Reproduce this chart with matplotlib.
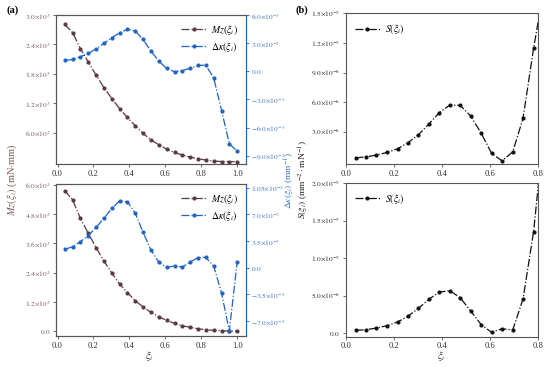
import numpy as np
import matplotlib
matplotlib.use("Agg")
import matplotlib.pyplot as plt
from matplotlib.ticker import FixedLocator, FixedFormatter

plt.rcParams['font.family'] = 'serif'
plt.rcParams['font.serif'] = ['Liberation Serif', 'DejaVu Serif']
plt.rcParams['mathtext.fontset'] = 'stix'

# ---------------- data ----------------
xi = [0.040, 0.084, 0.127, 0.171, 0.215, 0.258, 0.302, 0.345, 0.389, 0.433,
      0.476, 0.520, 0.564, 0.607, 0.651, 0.695, 0.738, 0.782, 0.825, 0.869,
      0.913, 0.956, 1.000]

mz_top = [2811, 2641, 2316, 2043, 1772, 1521, 1297, 1093, 910, 740,
          584, 454, 352, 265, 197, 143, 102, 68, 41, 20, 12, 10, 10]
dk_top = [1.15e-3, 1.26e-3, 1.55e-3, 1.90e-3, 2.40e-3, 2.97e-3, 3.58e-3, 4.10e-3,
          4.47e-3, 4.29e-3, 3.40e-3, 2.15e-3, 1.08e-3, 0.30e-3, -0.05e-3, 0.08e-3,
          0.33e-3, 0.62e-3, 0.65e-3, -0.70e-3, -4.19e-3, -7.72e-3, -8.54e-3]

mz_bot = [5760, 5378, 4628, 4014, 3425, 2880, 2388, 1937, 1581, 1253,
          995, 778, 598, 450, 328, 229, 164, 106, 66, 41, 25, 12, 12]
dk_bot = [2.41e-3, 2.75e-3, 3.41e-3, 4.20e-3, 5.30e-3, 6.47e-3, 7.79e-3, 8.74e-3,
          8.65e-3, 7.13e-3, 4.64e-3, 2.32e-3, 0.71e-3, 0.05e-3, 0.22e-3, 0.09e-3,
          0.75e-3, 1.31e-3, 1.36e-3, 0.22e-3, -3.36e-3, -8.30e-3, 0.79e-3]

xi_s = xi[:19]
s_top = [0.36e-6, 0.47e-6, 0.64e-6, 0.91e-6, 1.28e-6, 1.89e-6, 2.70e-6, 3.78e-6,
         4.93e-6, 5.71e-6, 5.68e-6, 4.59e-6, 2.84e-6, 0.81e-6, 0.06e-6, 0.97e-6,
         4.36e-6, 1.145e-5, 1.75e-5]
s_bot = [0.40e-6, 0.48e-6, 0.70e-6, 1.01e-6, 1.50e-6, 2.26e-6, 3.32e-6, 4.51e-6,
         5.48e-6, 5.66e-6, 4.73e-6, 2.96e-6, 1.14e-6, 0.13e-6, 0.61e-6, 0.44e-6,
         4.56e-6, 1.35e-5, 2.7e-5]

# tick labels
xt_a = [0.0, 0.2, 0.4, 0.6, 0.8, 1.0]
xt_b = [0.0, 0.2, 0.4, 0.6, 0.8]
mz_top_ticks = [600, 1200, 1800, 2400, 3000]
mz_top_lbl = [r'$6.0{\times}10^{2}$', r'$1.2{\times}10^{3}$', r'$1.8{\times}10^{3}$',
              r'$2.4{\times}10^{3}$', r'$3.0{\times}10^{3}$']
dk_top_ticks = [-9e-3, -6e-3, -3e-3, 0, 3e-3, 6e-3]
dk_top_lbl = [r'$-9.0{\times}10^{-3}$', r'$-6.0{\times}10^{-3}$', r'$-3.0{\times}10^{-3}$',
              r'$0.0$', r'$3.0{\times}10^{-3}$', r'$6.0{\times}10^{-3}$']
mz_bot_ticks = [0, 1200, 2400, 3600, 4800, 6000]
mz_bot_lbl = [r'$0.0$', r'$1.2{\times}10^{3}$', r'$2.4{\times}10^{3}$',
              r'$3.6{\times}10^{3}$', r'$4.8{\times}10^{3}$', r'$6.0{\times}10^{3}$']
dk_bot_ticks = [-7e-3, -3.5e-3, 0, 3.5e-3, 7e-3, 1.05e-2]
dk_bot_lbl = [r'$-7.0{\times}10^{-3}$', r'$-3.5{\times}10^{-3}$', r'$0.0$',
              r'$3.5{\times}10^{-3}$', r'$7.0{\times}10^{-3}$', r'$1.05{\times}10^{-2}$']
s_top_ticks = [3e-6, 6e-6, 9e-6, 1.2e-5, 1.5e-5]
s_top_lbl = [r'$3.0{\times}10^{-6}$', r'$6.0{\times}10^{-6}$', r'$9.0{\times}10^{-6}$',
             r'$1.2{\times}10^{-5}$', r'$1.5{\times}10^{-5}$']
s_bot_ticks = [0, 5e-6, 1e-5, 1.5e-5, 2e-5]
s_bot_lbl = [r'$0.0$', r'$5.0{\times}10^{-6}$', r'$1.0{\times}10^{-5}$',
             r'$1.5{\times}10^{-5}$', r'$2.0{\times}10^{-5}$']

# ---------------- style ----------------
C_MZ = '#5a3a40'
C_MZ_TXT = '#7d5858'
C_DK = '#1f63c4'
C_DK_TXT = '#3f78c0'
C_SP = '#555555'
TFS = 5.3
LFS = 7.5
MS = 2.0

fig = plt.figure(figsize=(5.5, 3.67), dpi=100)

def style_axes(ax):
    for s in ax.spines.values():
        s.set_color(C_SP)
        s.set_linewidth(0.8)
    ax.tick_params(axis='both', length=2.5, width=0.6, labelsize=TFS, pad=1.5, color=C_SP)
    ax.tick_params(axis='x', labelsize=6.2)

def set_ticks(ax, axis, ticks, labels):
    a = ax.yaxis if axis == 'y' else ax.xaxis
    a.set_major_locator(FixedLocator(ticks))
    a.set_major_formatter(FixedFormatter(labels))

def panel_a(rect, mz, dk, mz_lim, dk_lim, mzt, mzl, dkt, dkl):
    ax = fig.add_axes(rect)
    style_axes(ax)
    l1, = ax.plot(xi, mz, linestyle='-.', marker='o', ms=MS, lw=0.9, color=C_MZ,
                  label=r'$Mz(\xi_i)$')
    ax.set_ylim(*mz_lim)
    set_ticks(ax, 'y', mzt, mzl)
    ax.set_xticks(xt_a)
    ax.set_xticklabels(['%.1f' % v for v in xt_a])
    ax.tick_params(axis='y', labelcolor=C_MZ_TXT)
    ax.tick_params(axis='x', labelcolor='#333333')
    ax2 = ax.twinx()
    style_axes(ax2)
    ax2.spines['right'].set_color(C_DK)
    l2, = ax2.plot(xi, dk, linestyle='-.', marker='o', ms=MS, lw=0.9, color=C_DK,
                   label=r'$\Delta\kappa(\xi_i)$')
    ax2.set_ylim(*dk_lim)
    set_ticks(ax2, 'y', dkt, dkl)
    ax2.tick_params(axis='y', labelcolor=C_DK_TXT, color=C_DK)
    ax2.legend(handles=[l1, l2], loc='upper right', frameon=False, fontsize=7,
               handlelength=2.6, handletextpad=0.5, labelspacing=0.3,
               borderaxespad=0.4)
    return ax

panel_a([0.102, 0.553, 0.345, 0.406], mz_top, dk_top, (-40, 3000), (-9.9e-3, 6.0e-3),
        mz_top_ticks, mz_top_lbl, dk_top_ticks, dk_top_lbl)
panel_a([0.102, 0.0845, 0.345, 0.414], mz_bot, dk_bot, (-190, 6030), (-8.95e-3, 1.097e-2),
        mz_bot_ticks, mz_bot_lbl, dk_bot_ticks, dk_bot_lbl)

def panel_b(rect, s, lim, st, sl):
    ax = fig.add_axes(rect)
    style_axes(ax)
    ax.plot(xi_s, s, linestyle='-.', marker='o', ms=MS, lw=0.9, color='#111111',
            label=r'$S(\xi_i)$')
    ax.set_xlim(0, 0.8)
    ax.set_ylim(*lim)
    set_ticks(ax, 'y', st, sl)
    ax.set_xticks(xt_b)
    ax.set_xticklabels(['%.1f' % v for v in xt_b])
    ax.tick_params(axis='both', labelcolor='#333333')
    ax.legend(loc='upper left', frameon=False, fontsize=7, handlelength=2.6,
              handletextpad=0.5, borderaxespad=0.5)
    return ax

panel_b([0.629, 0.552, 0.349, 0.412], s_top, (-0.3e-6, 1.5e-5), s_top_ticks, s_top_lbl)
panel_b([0.629, 0.0826, 0.349, 0.419], s_bot, (-0.45e-6, 2.0e-5), s_bot_ticks, s_bot_lbl)

# figure-level labels
fig.text(0.022, 0.51, r'$Mz(\xi_i)$ (mN$\cdot$mm)', rotation=90, ha='center', va='center',
         fontsize=LFS, color=C_MZ_TXT)
fig.text(0.5275, 0.51, r'$\Delta\kappa(\xi_i)$ (mm$^{-1}$)', rotation=90, ha='center',
         va='center', fontsize=6.8, color=C_DK_TXT)
fig.text(0.553, 0.51, r'$S(\xi_i)$ (mm$^{-2}\cdot$mN$^{-1}$)', rotation=90, ha='center',
         va='center', fontsize=6.8, color='#222222')
fig.text(0.272, 0.03, r'$\xi_i$', ha='center', va='center', fontsize=LFS, color='#333333')
fig.text(0.803, 0.03, r'$\xi_i$', ha='center', va='center', fontsize=LFS, color='#333333')
fig.text(0.012, 0.972, '(a)', ha='left', va='center', fontsize=7.5, fontweight='bold')
fig.text(0.537, 0.972, '(b)', ha='left', va='center', fontsize=7.5, fontweight='bold')

fig.savefig('out.png', dpi=100)
